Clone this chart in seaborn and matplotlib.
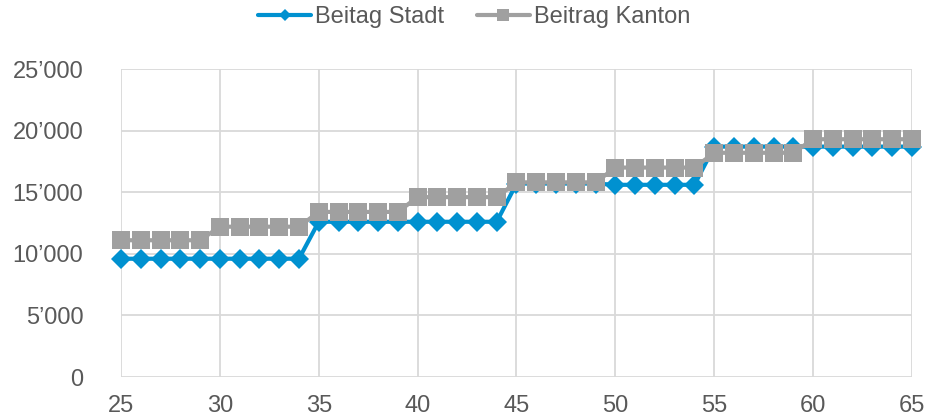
import matplotlib
matplotlib.use("Agg")
import matplotlib.pyplot as plt
import matplotlib.ticker as mticker
import seaborn as sns
import pandas as pd

ages = list(range(25, 66))
stadt = [9600]*10 + [12600]*10 + [15700]*5 + [15600]*5 + [18700]*5 + [18700]*6
kanton = [11100]*5 + [12200]*5 + [13400]*5 + [14600]*5 + [15800]*5 + [17000]*5 + [18200]*5 + [19300]*6
series_names = ["Beitag Stadt", "Beitrag Kanton"]

df = pd.concat([
    pd.DataFrame({"Alter": ages, "Beitrag": stadt, "Serie": series_names[0]}),
    pd.DataFrame({"Alter": ages, "Beitrag": kanton, "Serie": series_names[1]}),
])

sns.set_style("white")
plt.rcParams["font.family"] = ["Liberation Sans", "DejaVu Sans"]

fig = plt.figure(figsize=(9.29, 4.17), dpi=100)
ax = fig.add_axes([121/929, 1-377/417, (912-121)/929, (377-69)/417])

palette = {series_names[0]: "#0091d0", series_names[1]: "#a0a0a0"}
markers = {series_names[0]: "D", series_names[1]: "s"}
sizes = {series_names[0]: 10, series_names[1]: 12.5}

for name in series_names:
    sub = df[df["Serie"] == name]
    sns.lineplot(data=sub, x="Alter", y="Beitrag", ax=ax, color=palette[name],
                 marker=markers[name], markersize=sizes[name], markeredgewidth=0,
                 linewidth=3, label=name, clip_on=False,
                 zorder=3 if name == series_names[1] else 2)

ax.set_xlim(25, 65)
ax.set_ylim(0, 25000)
ax.set_xticks(range(25, 66, 5))
ax.set_yticks(range(0, 25001, 5000))
ax.yaxis.set_major_formatter(mticker.FuncFormatter(lambda v, p: "0" if v == 0 else f"{int(v):,}".replace(",", "\u2019")))
ax.grid(True, color="#d9d9d9", linewidth=1.3)
ax.set_axisbelow(True)
for s in ax.spines.values():
    s.set_visible(False)
ax.tick_params(axis="both", length=0, labelsize=17, labelcolor="#595959")
ax.tick_params(axis="y", pad=27)
ax.tick_params(axis="x", pad=13)
ax.set_xlabel("")
ax.set_ylabel("")

handles, labels = ax.get_legend_handles_labels()
ax.get_legend().remove()
fig.legend(handles, labels, loc="center", bbox_to_anchor=(474/929, 1-17/417),
           ncol=2, frameon=False, fontsize=17, labelcolor="#595959",
           handlelength=2.25, columnspacing=1.4, handletextpad=0.15, markerscale=0.65,
           borderpad=0, borderaxespad=0)

fig.savefig("out.png", dpi=100)
